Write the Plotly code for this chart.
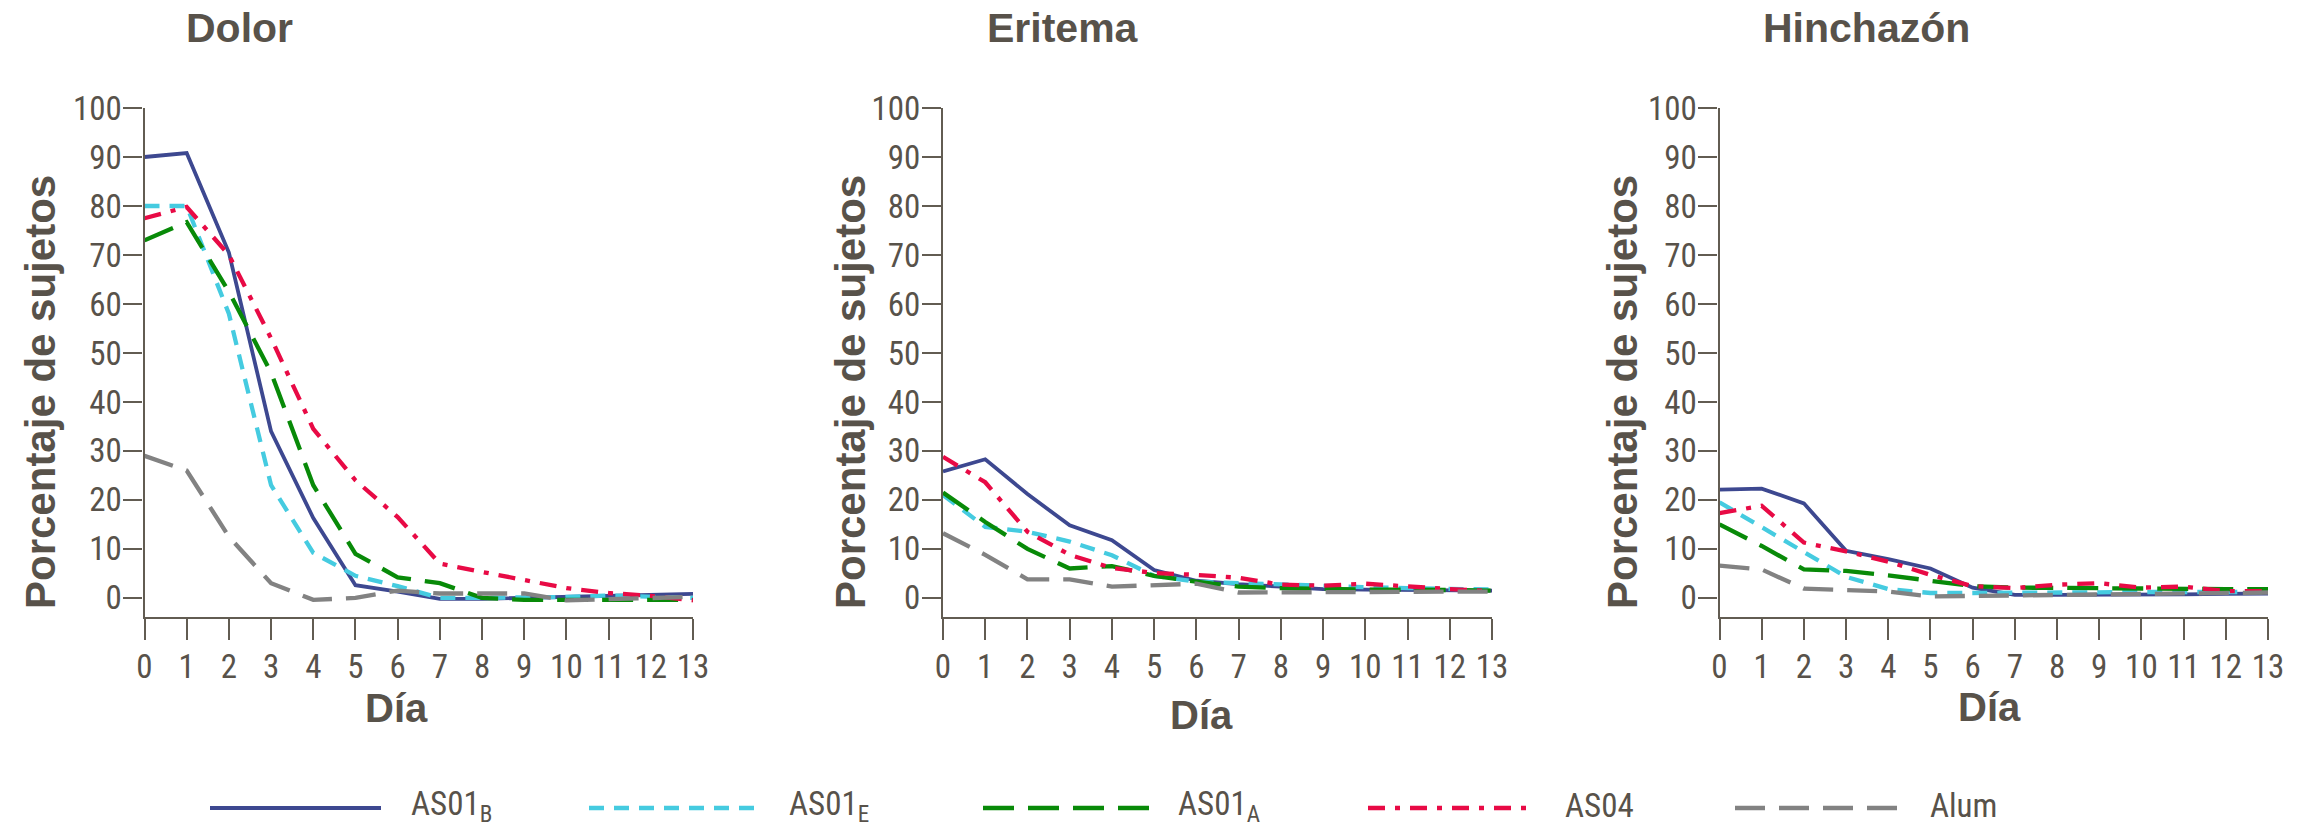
import plotly.graph_objects as go

# ---------------- data ----------------
days = list(range(14))
day_labels = [str(d) for d in days]
y_ticks = list(range(0, 101, 10))

panel_titles = ["Dolor", "Eritema", "Hinchazón"]
series_names = ["AS01<sub>B</sub>", "AS01<sub>E</sub>", "AS01<sub>A</sub>", "AS04", "Alum"]

dolor_as01b = [90, 90.8, 70.5, 34, 16.3, 2.6, 1.3, -0.2, -0.2, 0, 0.2, 0.4, 0.6, 0.8]
dolor_as01e = [80, 80, 58, 23, 9.2, 4.5, 2.4, 0, 0, 0, 0.2, 0.5, 0.3, 0]
dolor_as01a = [73, 76.7, 62.5, 46, 23, 9, 4.2, 3.0, 0, -0.4, -0.4, -0.4, -0.4, -0.4]
dolor_as04 = [77.5, 79.8, 70, 53, 34.5, 24, 16.5, 7, 5.3, 3.6, 2.0, 1.0, 0.4, -0.5]
dolor_alum = [29, 26, 12.5, 3, -0.4, 0, 1.5, 0.9, 0.9, 0.9, -0.5, -0.3, 0, 0.2]

eritema_as01b = [25.8, 28.3, 21.2, 14.8, 11.8, 5.7, 3.5, 2.8, 2.3, 1.8, 1.7, 1.6, 1.5, 1.5]
eritema_as01e = [21, 14.5, 13.5, 11.5, 8.7, 4.5, 3.3, 3.0, 2.6, 2.5, 2.2, 2.0, 1.8, 1.7]
eritema_as01a = [21.5, 15.5, 10, 6, 6.5, 4.5, 3.3, 2.3, 2.0, 1.8, 1.7, 1.7, 1.6, 1.5]
eritema_as04 = [28.8, 23.6, 13.5, 8.8, 6.1, 5.1, 4.7, 4.1, 2.7, 2.5, 2.9, 2.3, 1.8, 1.4]
eritema_alum = [13.2, 8.8, 3.8, 3.8, 2.3, 2.6, 2.9, 1.1, 1.1, 1.1, 1.1, 1.1, 1.2, 1.3]

hinchazon_as01b = [22.1, 22.3, 19.3, 9.6, 7.9, 6.0, 2.1, 0.6, 0.6, 0.6, 0.7, 0.7, 0.8, 0.9]
hinchazon_as01e = [19.5, 14.5, 9.5, 4.3, 1.8, 1.0, 1.0, 1.1, 1.2, 1.2, 1.2, 1.2, 1.2, 1.2]
hinchazon_as01a = [15, 10.6, 5.8, 5.5, 4.6, 3.6, 2.4, 2.1, 2.0, 2.0, 1.9, 1.8, 1.8, 1.8]
hinchazon_as04 = [17.3, 18.8, 11.3, 9.5, 7.4, 4.7, 2.4, 2.0, 2.7, 3.0, 2.1, 2.3, 1.4, 1.4]
hinchazon_alum = [6.6, 5.8, 1.9, 1.7, 1.3, 0.3, 0.3, 0.5, 0.6, 0.7, 0.8, 0.9, 1.0, 1.1]

panels = [
    [dolor_as01b, dolor_as01e, dolor_as01a, dolor_as04, dolor_alum],
    [eritema_as01b, eritema_as01e, eritema_as01a, eritema_as04, eritema_alum],
    [hinchazon_as01b, hinchazon_as01e, hinchazon_as01a, hinchazon_as04, hinchazon_alum],
]

# ---------------- styles / layout ----------------
W, H = 2311, 827
colors = ["#3d4890", "#45cbe0", "#088a08", "#e80a45", "#828282"]
dashes = ["solid", "15px,10px", "31px,14px", "17px,10px,5px,10px", "30px,14px"]
widths = [3.8, 4.3, 4.3, 4.3, 4.3]
TEXT = "#58524a"
AXIS = "#625c52"
FONT = "Liberation Sans, Arial, sans-serif"
NARROW = "Roboto Condensed, DejaVu Sans Condensed, Liberation Sans, sans-serif"

# pixel extents of each panel (x: day 0 .. day 13, y: value 100 .. x-axis line)
panel_x = [(144.5, 693), (943, 1492), (1719.5, 2268)]
plot_top, plot_bottom = 108, 617
y_range = [-3.9, 100]
title_x = [184, 985, 1761]
title_y = 28
ytitle_x = [40, 850, 1622]
ytitle_y = 392
dia_pos = [(396, 708), (1201, 715), (1989, 707)]
legend_y = 808
legend_text_y = [806, 806, 806, 805, 805]
legend_lines = [(210, 381), (589, 760), (983, 1150), (1368, 1532), (1735, 1900)]
legend_text_x = [409, 787, 1176, 1563, 1928]


def px(x):
    return x / W


def py(y):
    return 1 - y / H


fig = go.Figure()

for p, series in enumerate(panels):
    xa = "x" if p == 0 else f"x{p + 1}"
    ya = "y" if p == 0 else f"y{p + 1}"
    for s, vals in enumerate(series):
        fig.add_trace(go.Scatter(
            x=days, y=vals, mode="lines", xaxis=xa, yaxis=ya,
            line=dict(color=colors[s], width=widths[s], dash=dashes[s]),
            showlegend=False, hoverinfo="skip",
        ))

axis_common = dict(
    showline=True, linecolor=AXIS, linewidth=2.2, ticks="outside",
    tickcolor=AXIS, tickwidth=2.2, showgrid=False, zeroline=False,
    automargin=False,
    tickfont=dict(family=NARROW, size=33, color=TEXT),
)

layout_axes = {}
for p in range(3):
    xk = "xaxis" if p == 0 else f"xaxis{p + 1}"
    yk = "yaxis" if p == 0 else f"yaxis{p + 1}"
    anchor_y = "y" if p == 0 else f"y{p + 1}"
    anchor_x = "x" if p == 0 else f"x{p + 1}"
    layout_axes[xk] = dict(
        axis_common, domain=[px(panel_x[p][0]), px(panel_x[p][1])],
        range=[0, 13], tickvals=days, ticktext=day_labels, ticklen=21,
        anchor=anchor_y, ticklabelstandoff=-2,
    )
    layout_axes[yk] = dict(
        axis_common, domain=[py(plot_bottom), py(plot_top)],
        range=y_range, tickvals=y_ticks, ticklen=19, anchor=anchor_x,
        ticklabelstandoff=-5,
    )

# overlay axes in pixel units for the legend row
layout_axes["xaxis4"] = dict(domain=[0, 1], range=[0, W], visible=False, fixedrange=True,
                             anchor="y4", automargin=False)
layout_axes["yaxis4"] = dict(domain=[0, 1], range=[H, 0], visible=False, fixedrange=True,
                             anchor="x4", automargin=False)

for s in range(5):
    x0, x1 = legend_lines[s]
    fig.add_trace(go.Scatter(
        x=[x0, x1], y=[legend_y, legend_y], mode="lines", xaxis="x4", yaxis="y4",
        line=dict(color=colors[s], width=widths[s], dash=dashes[s]),
        showlegend=False, hoverinfo="skip",
    ))

annotations = []
for p in range(3):
    annotations.append(dict(
        text=f"<b>{panel_titles[p]}</b>", x=px(title_x[p]), y=py(title_y),
        xref="paper", yref="paper", xanchor="left", yanchor="middle",
        showarrow=False, font=dict(family=FONT, size=41, color=TEXT),
    ))
    annotations.append(dict(
        text="<b>Porcentaje de sujetos</b>", x=px(ytitle_x[p]), y=py(ytitle_y),
        xref="paper", yref="paper", xanchor="center", yanchor="middle",
        textangle=-90, showarrow=False, font=dict(family=FONT, size=42, color=TEXT),
    ))
    annotations.append(dict(
        text="<b>Día</b>", x=px(dia_pos[p][0]), y=py(dia_pos[p][1]),
        xref="paper", yref="paper", xanchor="center", yanchor="middle",
        showarrow=False, font=dict(family=FONT, size=40, color=TEXT),
    ))
for s in range(5):
    annotations.append(dict(
        text=series_names[s], x=px(legend_text_x[s]), y=py(legend_text_y[s]),
        xref="paper", yref="paper", xanchor="left", yanchor="middle",
        showarrow=False, font=dict(family=NARROW, size=33, color=TEXT),
    ))

fig.update_layout(
    width=W, height=H, margin=dict(l=0, r=0, t=0, b=0, pad=0),
    paper_bgcolor="white", plot_bgcolor="rgba(0,0,0,0)",
    showlegend=False, annotations=annotations, **layout_axes,
)

fig.write_html(
    "out.html",
    config={"displayModeBar": False},
    post_script="document.body.style.margin='0';document.body.style.overflow='hidden';",
)
